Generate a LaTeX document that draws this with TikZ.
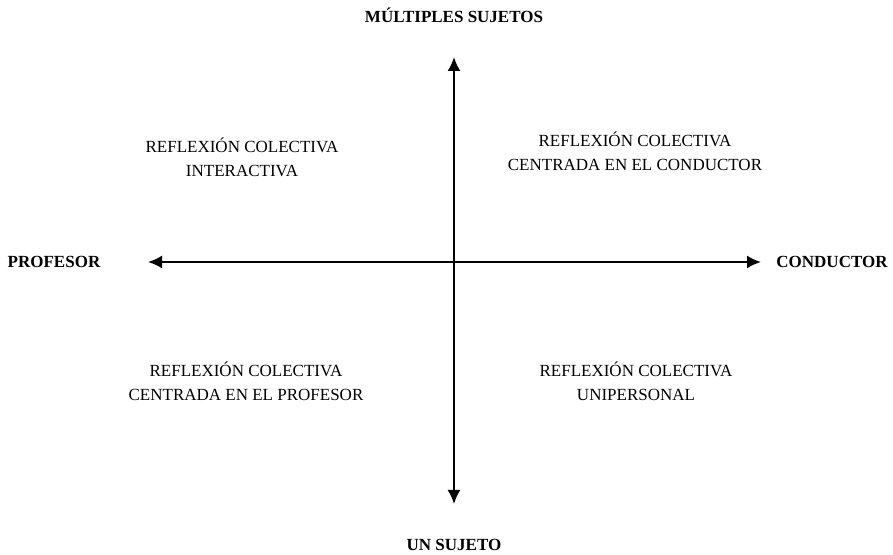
\documentclass[tikz,border=0pt]{standalone}
\usepackage{fontspec}
\setmainfont{Liberation Serif}
\usepackage{tikz}
\usetikzlibrary{arrows.meta}
\usetikzlibrary{positioning}

\begin{document}
\begin{tikzpicture}[x=0.5pt,y=0.5pt]
\tikzset{axis/.style={draw,line width=1pt,{Latex[length=7pt,width=6.5pt]}-{Latex[length=7pt,width=6.5pt]}}}
\tikzset{pole/.style={font=\bfseries\fontsize{8.5}{10}\selectfont,inner sep=0pt}}
\tikzset{quadrant/.style={align=center,inner sep=0pt,font=\fontsize{8.5}{12}\selectfont}}
    \useasboundingbox (0,0) rectangle (893,555);
        % axis ends
        \coordinate (top) at (454,498);
        \coordinate (bottom) at (454,51);
        \coordinate (left) at (148,293);
        \coordinate (right) at (761,293);
            \path[axis] (bottom) -- (top);
            \path[axis] (left) -- (right);
        % poles
        \node[pole] (multiples) at (454,540) {MÚLTIPLES SUJETOS};
        \node[pole] (unsujeto) at (454,10) {UN SUJETO};
        \node[pole] (profesor) at (54,293) {PROFESOR};
        \node[pole] (conductor) at (832,293) {CONDUCTOR};
        % quadrants
        \node[quadrant] (interactiva) at (242,398) {REFLEXIÓN COLECTIVA\\INTERACTIVA};
        \node[quadrant] (encond) at (635,404) {REFLEXIÓN COLECTIVA\\CENTRADA EN EL CONDUCTOR};
        \node[quadrant] (enprof) at (246,174) {REFLEXIÓN COLECTIVA\\CENTRADA EN EL PROFESOR};
        \node[quadrant] (unipersonal) at (636,174) {REFLEXIÓN COLECTIVA\\UNIPERSONAL};
\end{tikzpicture}
\end{document}
